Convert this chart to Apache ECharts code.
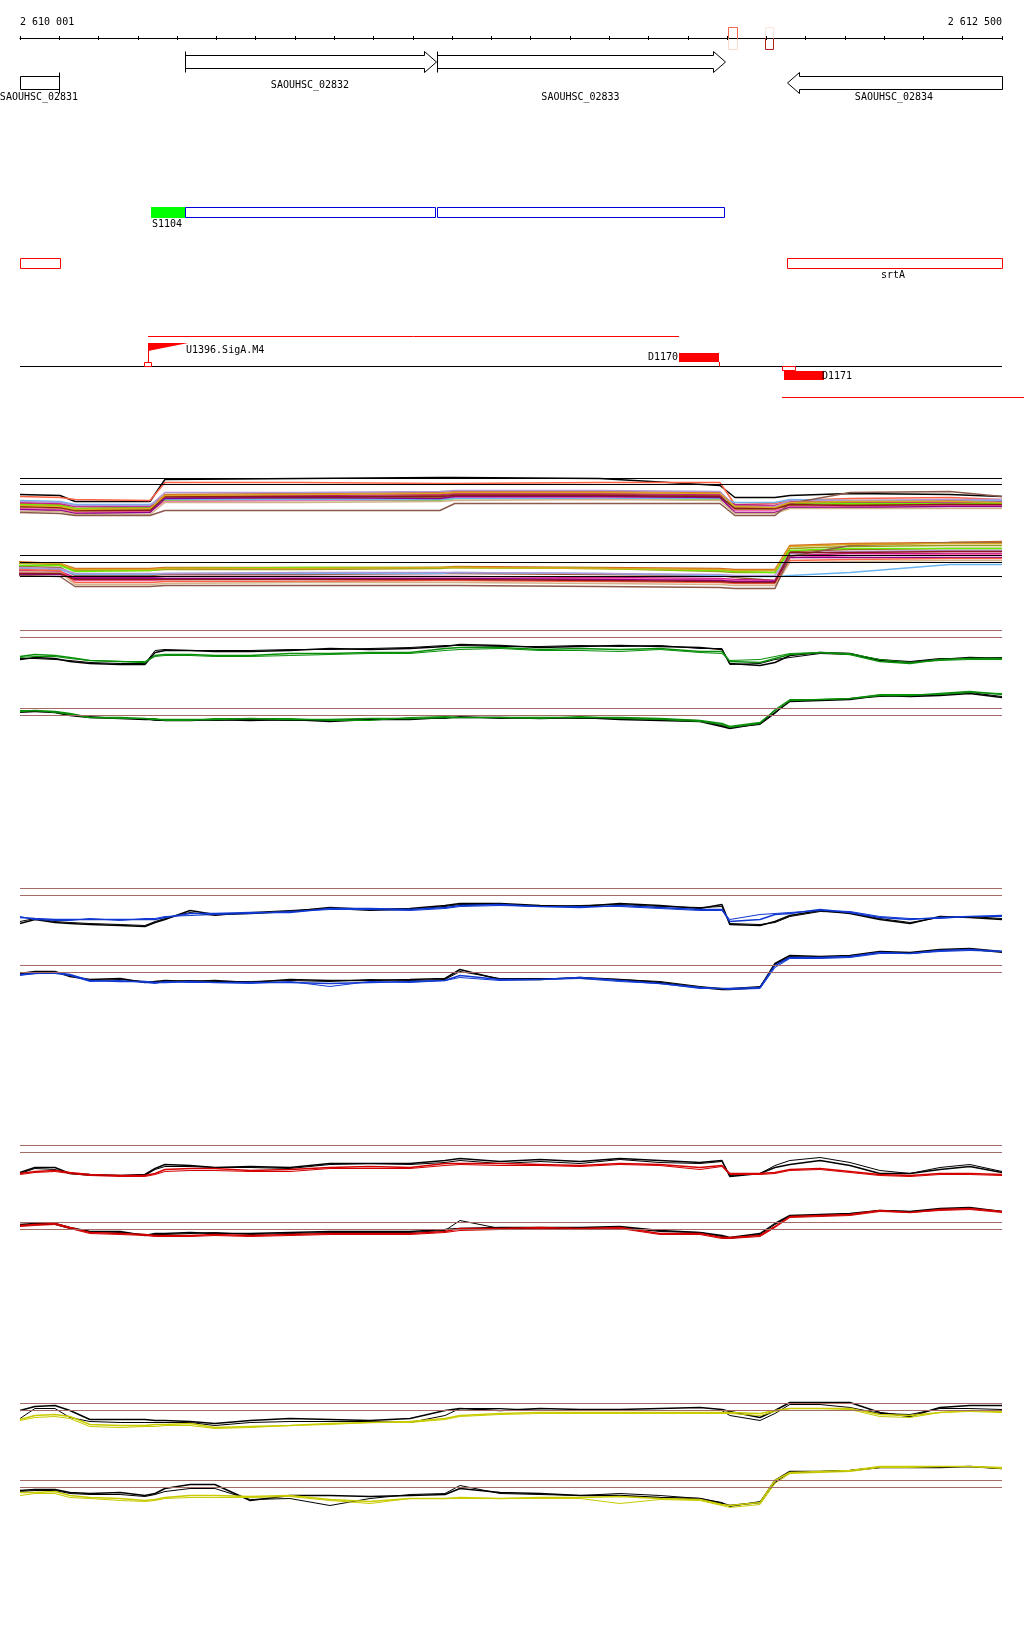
<!DOCTYPE html>
<html><head><meta charset="utf-8">
<script src="https://cdn.jsdelivr.net/npm/echarts@6/dist/echarts.min.js"></script>
<style>html,body{margin:0;padding:0;background:#fff}#c{width:1024px;height:1640px}</style>
</head><body><div id="c"></div>
<script>
// ================= DATA =================
const VIEW_START = 2610000, VIEW_END = 2612500, TICK_STEP = 100;
const AXIS_LABEL_POS = [2610000, 2612500];
const AXIS_LABEL_TEXT = ['2 610 001', '2 612 500'];

// genes
const GENE_NAMES = ['SAOUHSC_02831', 'SAOUHSC_02832', 'SAOUHSC_02833', 'SAOUHSC_02834'];
const GENE_START = [2609700, 2610420, 2611062, 2611952];
const GENE_END = [2610100, 2611059, 2611795, 2612900];
const GENE_STRAND = ['-', '+', '+', '-'];

// coverage score boxes next to the ruler (0..1, plus / minus strand)
const SCORE_START = [2611802, 2611897];
const SCORE_END = [2611825, 2611917];
const SCORE_PLUS = [0.62, 0.12];
const SCORE_MINUS = [0.18, 0.95];

// transcript S1104 segments
const SEG_NAME = 'S1104';
const SEG_START = [2610334, 2610420, 2611062];
const SEG_END = [2610420, 2611059, 2611795];
const SEG_KIND = ['UTR', 'CDS', 'CDS'];

// annotation boxes
const ANNOT_NAMES = ['', 'srtA'];
const ANNOT_START = [2610000, 2611952];
const ANNOT_END = [2610101, 2612500];

// promoters / terminators / transcription units
const TSS_NAMES = ['U1396.SigA.M4'];
const TSS_POS = [2610326];
const SITE_START = [2610316, 2611940];
const SITE_END = [2610336, 2611975];
const SITE_STRAND = ['+', '-'];
const TERM_NAMES = ['D1170', 'D1171'];
const TERM_START = [2611678, 2611944];
const TERM_END = [2611780, 2612046];
const TERM_STRAND = ['+', '-'];
const TU_START = [2610326, 2611940];
const TU_END = [2611678, 2612560];
const TU_STRAND = ['+', '-'];

// multi-condition profiles (plus strand = A, minus strand = B)
const MULTI_A_POS = [2610000, 2610102, 2610140, 2610331, 2610369, 2610713, 2611069, 2611107, 2611476, 2611782, 2611820, 2611922, 2611960, 2612113, 2612367, 2612500];
const MULTI_B_POS = [2609987, 2610102, 2610140, 2610331, 2610369, 2610713, 2611069, 2611107, 2611476, 2611782, 2611820, 2611922, 2611960, 2612113, 2612367, 2612500];
const MULTI_A_THRESH = [52, 46];
const MULTI_B_THRESH = [45, 38, 24];
const MULTI_A_VALUES = [
  [36, 35, 29, 29, 51, 52, 53, 53, 52, 45, 33, 33, 35, 37, 36, 34],
  [34, 33, 31, 30, 48, 48, 47, 47, 48, 48, 26, 27, 30, 32, 33, 31],
  [25, 24, 21, 21, 33, 33, 35, 36, 36, 35, 23, 23, 27, 28, 28, 27],
  [27, 26, 22, 23, 36, 37, 38, 39, 39, 38, 25, 24, 29, 30, 30, 29],
  [23, 22, 19, 19, 31, 32, 33, 34, 34, 33, 21, 21, 25, 26, 26, 25],
  [26, 25, 22, 23, 30, 30, 30, 32, 32, 31, 24, 25, 28, 27, 27, 27],
  [28, 27, 24, 24, 34, 35, 36, 37, 37, 36, 26, 25, 29, 29, 28, 29],
  [22, 21, 18, 19, 29, 30, 31, 33, 33, 32, 20, 20, 24, 24, 25, 25],
  [30, 29, 26, 26, 31, 31, 31, 32, 32, 32, 28, 28, 31, 30, 29, 30],
  [29, 28, 25, 25, 38, 38, 39, 40, 40, 39, 24, 24, 30, 30, 31, 31],
  [21, 20, 17, 18, 32, 33, 32, 34, 34, 33, 18, 18, 23, 23, 24, 24],
  [19, 19, 16, 16, 28, 28, 29, 30, 31, 30, 17, 17, 22, 22, 22, 22],
  [18, 17, 15, 15, 20, 20, 20, 27, 27, 27, 15, 15, 27, 38, 39, 34],
  [24, 23, 20, 20, 34, 34, 34, 35, 35, 34, 22, 22, 26, 25, 26, 26],
  [25, 24, 21, 22, 35, 36, 37, 38, 38, 37, 24, 23, 28, 29, 29, 28]
];
const MULTI_B_VALUES = [
  [39, 37, 32, 32, 33, 33, 33, 34, 33, 32, 31, 31, 55, 57, 58, 59],
  [34, 33, 25, 25, 26, 26, 27, 27, 26, 25, 23, 20, 49, 51, 52, 52],
  [37, 36, 30, 30, 31, 31, 32, 33, 32, 29, 28, 28, 52, 54, 55, 55],
  [35, 35, 29, 30, 32, 33, 33, 33, 32, 30, 29, 28, 50, 52, 52, 52],
  [30, 29, 23, 23, 24, 24, 24, 24, 23, 22, 21, 20, 45, 47, 47, 47],
  [28, 28, 20, 20, 21, 22, 22, 22, 22, 21, 20, 19, 43, 45, 46, 46],
  [26, 26, 22, 22, 22, 22, 22, 22, 21, 20, 19, 19, 43, 43, 43, 43],
  [32, 31, 26, 26, 27, 27, 27, 28, 27, 25, 24, 24, 25, 28, 36, 36],
  [33, 32, 27, 27, 27, 28, 28, 28, 27, 26, 25, 25, 47, 49, 50, 50],
  [31, 30, 18, 18, 19, 19, 20, 20, 19, 18, 17, 17, 40, 41, 42, 42],
  [29, 28, 16, 16, 17, 18, 18, 18, 17, 16, 15, 15, 38, 39, 40, 40],
  [25, 24, 14, 14, 15, 15, 15, 15, 14, 13, 12, 12, 44, 55, 58, 58],
  [27, 27, 21, 21, 21, 21, 21, 21, 20, 19, 18, 18, 48, 48, 49, 49],
  [38, 37, 31, 31, 32, 32, 33, 33, 32, 31, 30, 30, 54, 56, 57, 57]
];

// paired profiles
const PAIR_POS = [2610000, 2610038, 2610089, 2610127, 2610178, 2610255, 2610318, 2610344, 2610369, 2610433, 2610496, 2610586, 2610687, 2610789, 2610891, 2610993, 2611082, 2611120, 2611222, 2611324, 2611426, 2611527, 2611629, 2611731, 2611787, 2611807, 2611884, 2611922, 2611960, 2612037, 2612113, 2612189, 2612266, 2612342, 2612418, 2612500];
const PAIR_THRESH = [50, 43];

const GREEN_PLUS_BLACK_1 = [21, 23, 22, 19, 17, 16, 16, 28, 30, 30, 29, 29, 30, 32, 31, 32, 34, 36, 35, 33, 34, 35, 34, 33, 31, 17, 15, 18, 25, 28, 27, 20, 18, 21, 23, 22];
const GREEN_PLUS_BLACK_2 = [22, 22, 21, 20, 18, 17, 17, 30, 31, 30, 30, 30, 31, 31, 32, 33, 35, 35, 34, 34, 35, 34, 35, 32, 32, 16, 17, 21, 23, 27, 26, 21, 19, 22, 22, 23];
const GREEN_PLUS_COLOR_1 = [24, 26, 25, 23, 20, 19, 18, 25, 26, 26, 25, 25, 27, 27, 28, 28, 32, 33, 33, 31, 32, 31, 32, 29, 29, 19, 18, 22, 26, 28, 26, 19, 17, 21, 22, 22];
const GREEN_PLUS_COLOR_2 = [23, 24, 24, 22, 20, 19, 19, 24, 25, 25, 24, 24, 25, 26, 27, 27, 30, 31, 32, 30, 30, 29, 31, 28, 27, 20, 21, 24, 27, 28, 27, 21, 18, 20, 21, 21];

const GREEN_MINUS_BLACK_1 = [47, 47, 46, 43, 41, 40, 39, 39, 38, 38, 39, 38, 39, 37, 39, 39, 41, 41, 41, 40, 41, 39, 38, 37, 32, 30, 35, 46, 57, 58, 59, 63, 62, 63, 65, 61];
const GREEN_MINUS_BLACK_2 = [46, 47, 47, 44, 42, 40, 40, 38, 38, 39, 38, 39, 38, 38, 40, 40, 40, 42, 40, 41, 40, 40, 39, 38, 33, 31, 34, 45, 58, 58, 60, 62, 63, 64, 66, 62];
const GREEN_MINUS_COLOR_1 = [47, 48, 47, 45, 41, 41, 40, 39, 39, 39, 39, 40, 39, 39, 40, 40, 41, 41, 41, 41, 41, 41, 40, 38, 35, 32, 36, 48, 58, 59, 60, 63, 63, 65, 67, 64];
const GREEN_MINUS_COLOR_2 = [48, 48, 46, 44, 41, 40, 40, 40, 38, 38, 40, 40, 40, 38, 38, 41, 42, 41, 41, 40, 42, 40, 39, 37, 34, 31, 35, 49, 59, 59, 60, 64, 64, 64, 66, 65];

const BLUE_PLUS_BLACK_1 = [15, 19, 16, 15, 14, 13, 12, 16, 19, 28, 24, 25, 27, 31, 29, 30, 33, 35, 35, 33, 32, 35, 33, 30, 34, 14, 13, 17, 23, 28, 25, 19, 15, 22, 21, 19];
const BLUE_PLUS_BLACK_2 = [17, 20, 17, 16, 15, 14, 13, 17, 20, 26, 23, 26, 28, 30, 28, 29, 32, 34, 34, 32, 33, 34, 32, 31, 32, 15, 14, 16, 22, 27, 26, 20, 16, 21, 22, 20];
const BLUE_PLUS_COLOR_1 = [21, 20, 19, 19, 19, 19, 19, 19, 21, 25, 25, 26, 26, 30, 30, 29, 31, 33, 34, 32, 31, 33, 31, 29, 29, 17, 19, 24, 25, 29, 26, 21, 19, 21, 22, 23];
const BLUE_PLUS_COLOR_2 = [22, 19, 18, 18, 20, 18, 20, 20, 22, 23, 24, 25, 27, 29, 29, 28, 30, 32, 33, 32, 32, 32, 30, 28, 28, 19, 24, 25, 26, 28, 27, 22, 20, 20, 22, 22];

const BLUE_MINUS_BLACK_1 = [42, 44, 44, 39, 36, 37, 33, 34, 35, 34, 35, 33, 36, 35, 35, 36, 37, 46, 36, 36, 38, 36, 33, 28, 26, 26, 28, 52, 60, 59, 60, 64, 63, 66, 67, 64];
const BLUE_MINUS_BLACK_2 = [41, 43, 43, 40, 35, 36, 34, 33, 34, 35, 34, 34, 35, 34, 36, 35, 36, 44, 37, 37, 37, 36, 34, 29, 27, 27, 29, 51, 59, 58, 59, 63, 62, 65, 66, 63];
const BLUE_MINUS_COLOR_1 = [41, 42, 43, 41, 35, 34, 34, 33, 33, 34, 33, 33, 33, 32, 33, 34, 35, 40, 36, 36, 38, 35, 32, 28, 27, 27, 28, 50, 58, 58, 59, 63, 62, 65, 66, 64];
const BLUE_MINUS_COLOR_2 = [40, 42, 42, 40, 34, 35, 33, 32, 34, 33, 33, 32, 34, 29, 34, 33, 35, 38, 35, 36, 37, 34, 32, 27, 27, 26, 27, 48, 57, 57, 58, 62, 62, 64, 65, 64];

const RED_PLUS_BLACK_1 = [23, 28, 28, 22, 21, 20, 21, 27, 31, 30, 28, 29, 28, 32, 32, 32, 35, 37, 34, 36, 34, 37, 35, 33, 35, 19, 22, 28, 31, 35, 30, 22, 22, 26, 29, 23];
const RED_PLUS_BLACK_2 = [22, 27, 26, 22, 20, 20, 20, 26, 29, 29, 28, 28, 27, 31, 32, 31, 33, 35, 32, 34, 32, 36, 33, 32, 34, 20, 22, 30, 35, 38, 33, 25, 22, 28, 31, 24];
const RED_PLUS_COLOR_1 = [22, 24, 25, 23, 21, 20, 20, 22, 26, 27, 27, 25, 26, 28, 29, 28, 32, 32, 32, 31, 30, 32, 31, 28, 30, 22, 22, 23, 26, 27, 24, 21, 20, 22, 22, 21];
const RED_PLUS_COLOR_2 = [21, 23, 24, 22, 20, 19, 19, 21, 24, 25, 25, 24, 24, 27, 27, 27, 30, 31, 30, 30, 29, 31, 30, 26, 29, 21, 21, 22, 25, 26, 23, 20, 19, 21, 21, 20];

const RED_MINUS_BLACK_1 = [48, 49, 49, 45, 41, 41, 37, 39, 39, 40, 39, 39, 40, 41, 41, 41, 43, 44, 45, 45, 45, 46, 42, 40, 37, 35, 39, 49, 57, 58, 59, 62, 61, 64, 65, 61];
const RED_MINUS_BLACK_2 = [47, 48, 48, 44, 41, 40, 38, 38, 38, 39, 40, 38, 39, 40, 40, 40, 42, 52, 44, 44, 44, 45, 41, 40, 36, 34, 38, 48, 56, 57, 58, 62, 61, 63, 64, 61];
const RED_MINUS_COLOR_1 = [47, 48, 49, 45, 40, 39, 38, 37, 37, 37, 38, 37, 38, 39, 39, 39, 41, 44, 44, 45, 44, 45, 39, 39, 35, 35, 37, 46, 56, 57, 58, 62, 60, 63, 64, 61];
const RED_MINUS_COLOR_2 = [46, 47, 48, 44, 39, 38, 37, 36, 36, 36, 37, 36, 37, 38, 38, 38, 40, 42, 43, 44, 43, 44, 38, 38, 34, 34, 36, 45, 55, 56, 57, 61, 60, 62, 63, 60];

const YELLOW_PLUS_BLACK_1 = [43, 47, 48, 43, 34, 34, 34, 33, 33, 32, 30, 33, 35, 34, 33, 35, 43, 45, 43, 45, 44, 44, 45, 46, 44, 42, 36, 43, 51, 51, 51, 41, 37, 46, 48, 48];
const YELLOW_PLUS_BLACK_2 = [35, 45, 45, 36, 32, 31, 31, 31, 31, 31, 28, 31, 32, 32, 32, 31, 38, 45, 45, 43, 43, 43, 43, 43, 43, 38, 33, 40, 49, 49, 46, 40, 39, 45, 45, 44];
const YELLOW_PLUS_COLOR_1 = [34, 38, 39, 37, 29, 28, 28, 29, 29, 30, 26, 27, 28, 30, 31, 32, 35, 38, 40, 41, 41, 41, 41, 41, 41, 41, 40, 43, 45, 45, 45, 39, 38, 41, 43, 42];
const YELLOW_PLUS_COLOR_2 = [33, 36, 37, 35, 27, 26, 27, 27, 28, 28, 25, 26, 28, 29, 31, 31, 34, 37, 39, 40, 40, 40, 40, 40, 40, 40, 38, 42, 45, 45, 44, 37, 36, 41, 42, 41];

const YELLOW_MINUS_BLACK_1 = [40, 41, 41, 38, 37, 38, 35, 37, 42, 46, 46, 30, 35, 35, 34, 35, 36, 42, 38, 37, 35, 35, 33, 32, 27, 25, 28, 50, 59, 59, 60, 63, 63, 63, 64, 62];
const YELLOW_MINUS_BLACK_2 = [39, 40, 40, 37, 36, 36, 34, 36, 39, 42, 42, 31, 32, 25, 32, 36, 37, 45, 37, 36, 35, 37, 35, 32, 28, 24, 29, 48, 58, 59, 60, 63, 63, 64, 64, 62];
const YELLOW_MINUS_COLOR_1 = [38, 38, 39, 35, 33, 32, 30, 31, 33, 35, 35, 34, 35, 31, 29, 32, 32, 33, 32, 33, 33, 34, 32, 31, 26, 25, 28, 50, 58, 59, 60, 64, 64, 64, 64, 63];
const YELLOW_MINUS_COLOR_2 = [35, 37, 37, 33, 32, 30, 29, 30, 32, 33, 33, 33, 34, 30, 27, 32, 32, 32, 32, 32, 32, 27, 31, 30, 25, 23, 26, 47, 57, 58, 59, 63, 63, 64, 64, 62];

// ================= LAYOUT / STYLE =================
const FONT = '"DejaVu Sans Mono", monospace';
const LAY = {
  geneFwd: 62, geneRev: 83, bodyHalf: 6.5, headHalf: 10.5, headLen: 12,
  geneLabelRows: [85.5, 97], geneRevLabel: 97,
  segTop: 207.5, segBot: 217.5, segFillTop: 207, segFillBot: 218, segLabel: 224,
  annTop: 258.5, annBot: 268.5, annLabel: 275,
  tuFwd: 336.5, tuRev: 397.5, base: 366.5,
  flagTop: 343, flagLen: 40, flagDrop: 8,
  siteFwd: [362.5, 366.5], siteRev: [366.5, 370.5],
  termFwd: [353, 362], termRev: [371, 380], termFwdLabel: 357.5, termRevLabel: 376,
  scoreTop: 27.5, scoreMid: 38.5, scoreBot: 49.5
};
const MULTI_A_COLORS = ['#000000','#ff6347','#a0522d','#d2691e','#9a9a1a','#66ee00','#c71585','#ff69b4','#6ab4f0','#b098d8','#8b008b','#d2b48c','#8b5a4a','#8b1a1a','#daa520'];
const MULTI_B_COLORS = ['#d2691e','#a0522d','#9a9a1a','#66ee00','#c71585','#ff69b4','#8b008b','#6ab4f0','#b098d8','#ff6347','#d2b48c','#8b5a4a','#8b1a1a','#daa520'];
const THRESH_COLOR = '#a46b66';
const RAMP = [[0,[255,255,255]],[0.2,[251,213,198]],[0.6,[244,104,76]],[1,[173,20,20]]];
function rampColor(t){
  for (let k = 1; k < RAMP.length; k++) {
    if (t <= RAMP[k][0]) {
      const a = RAMP[k-1], b = RAMP[k], f = (t - a[0]) / (b[0] - a[0]);
      const c = a[1].map((v, j) => Math.round(v + (b[1][j] - v) * f));
      return 'rgb(' + c.join(',') + ')';
    }
  }
  return 'rgb(173,20,20)';
}

// ================= CHART =================
const chart = echarts.init(document.getElementById('c'), null, {renderer: 'canvas', width: 1024, height: 1640});
const grids = [], xAxes = [], yAxes = [], series = [];

function snap(v){ return Math.round(v) + 0.5; }
function px(api, bp){ return api.coord([bp, 100])[0]; }
function py(api, y){ return api.coord([VIEW_START, y])[1]; }

// top annotation grid (y axis expressed in page pixels for lanes)
grids.push({left: 20, right: 22, top: 38, height: 370, outerBoundsMode: 'none', containLabel: false});
xAxes.push({gridIndex: 0, type: 'value', position: 'top', min: VIEW_START, max: VIEW_END, interval: TICK_STEP,
  axisLine: {show: true, lineStyle: {color: '#000', width: 1}},
  axisTick: {show: true, length: 2, lineStyle: {color: '#000', width: 1}},
  splitLine: {show: false},
  axisLabel: {show: true, interval: 0, showMinLabel: true, showMaxLabel: true, alignMinLabel: 'left', alignMaxLabel: 'right',
    margin: 11, fontFamily: FONT, fontSize: 10, color: '#000',
    formatter: v => { const k = AXIS_LABEL_POS.indexOf(v); return k >= 0 ? AXIS_LABEL_TEXT[k] : ''; }}
});
yAxes.push({gridIndex: 0, type: 'value', min: 38, max: 408, inverse: true, show: false});
// thin grid whose bottom edge sits on the ruler: gives the downward half of the ticks
grids.push({left: 20, right: 22, top: 36, height: 2, outerBoundsMode: 'none', containLabel: false});
xAxes.push({gridIndex: 1, type: 'value', position: 'bottom', min: VIEW_START, max: VIEW_END, interval: TICK_STEP,
  axisLine: {show: false}, axisLabel: {show: false}, splitLine: {show: false},
  axisTick: {show: true, inside: false, length: 2, lineStyle: {color: '#000', width: 1}}});
yAxes.push({gridIndex: 1, type: 'value', min: 0, max: 1, show: false});

function addGrid(top, height, ymax){
  const gi = grids.length;
  grids.push({left: 20, right: 22, top: top, height: height, outerBoundsMode: 'none', containLabel: false});
  xAxes.push({gridIndex: gi, type: 'value', min: VIEW_START, max: VIEW_END, show: false});
  yAxes.push({gridIndex: gi, type: 'value', min: 0, max: ymax, show: false});
  return gi;
}

function custom(data, renderItem){
  series.push({type: 'custom', coordinateSystem: 'cartesian2d', xAxisIndex: 0, yAxisIndex: 0, clip: false, silent: true,
    data: data, encode: {x: [0, 1]}, renderItem: renderItem});
}

// score boxes at ruler
custom(SCORE_START.map((s, i) => [s, SCORE_END[i]]), (params, api) => {
  const i = params.dataIndex;
  const x1 = snap(px(api, SCORE_START[i])), x2 = snap(px(api, SCORE_END[i]));
  const t = py(api, LAY.scoreTop), m = py(api, LAY.scoreMid), b = py(api, LAY.scoreBot);
  return {type: 'group', children: [
    {type: 'polyline', shape: {points: [[x1, m], [x1, t], [x2, t], [x2, m]]}, style: {stroke: rampColor(SCORE_PLUS[i]), fill: null, lineWidth: 1}},
    {type: 'polyline', shape: {points: [[x1, m], [x1, b], [x2, b], [x2, m]]}, style: {stroke: rampColor(SCORE_MINUS[i]), fill: null, lineWidth: 1}}
  ]};
});

// genes
custom(GENE_START.map((s, i) => [s, GENE_END[i]]), (params, api) => {
  const i = params.dataIndex;
  const s = GENE_START[i], e = GENE_END[i], fwd = GENE_STRAND[i] === '+';
  const xs = snap(px(api, Math.max(s, VIEW_START))), xe = snap(px(api, Math.min(e, VIEW_END)));
  const cy = fwd ? LAY.geneFwd : LAY.geneRev;
  const bt = py(api, cy - LAY.bodyHalf), bb = py(api, cy + LAY.bodyHalf);
  const ht = py(api, cy - LAY.headHalf), hb = py(api, cy + LAY.headHalf), c = py(api, cy);
  const headIn = fwd ? e <= VIEW_END : s >= VIEW_START;
  const barIn = fwd ? s >= VIEW_START : e <= VIEW_END;
  let pts;
  if (!headIn) pts = [[xs, bt], [xe, bt], [xe, bb], [xs, bb]];
  else if (fwd) { const hx = xe - LAY.headLen; pts = [[xs, bt], [hx, bt], [hx, ht], [xe, c], [hx, hb], [hx, bb], [xs, bb]]; }
  else { const hx = xs + LAY.headLen; pts = [[xe, bt], [hx, bt], [hx, ht], [xs, c], [hx, hb], [hx, bb], [xe, bb]]; }
  const children = [{type: 'polygon', shape: {points: pts}, style: {fill: '#fff', stroke: '#000', lineWidth: 1}}];
  if (barIn) { const bx = fwd ? xs : xe; children.push({type: 'line', shape: {x1: bx, y1: ht, x2: bx, y2: hb}, style: {stroke: '#000', lineWidth: 1}}); }
  let fwdIdx = 0; for (let k = 0; k < i; k++) if (GENE_STRAND[k] === '+') fwdIdx++;
  const ly = fwd ? LAY.geneLabelRows[fwdIdx % 2] : LAY.geneRevLabel;
  children.push({type: 'text', style: {text: GENE_NAMES[i], x: (xs + xe) / 2 - 1, y: py(api, ly), fill: '#000',
    fontFamily: FONT, fontSize: 10, align: 'center', verticalAlign: 'middle'}});
  return {type: 'group', children: children};
});

// transcript segments
custom(SEG_START.map((s, i) => [s, SEG_END[i]]), (params, api) => {
  const i = params.dataIndex;
  const a = px(api, SEG_START[i]), b = px(api, SEG_END[i]);
  const children = [];
  if (SEG_KIND[i] === 'UTR') {
    const t = py(api, LAY.segFillTop), bo = py(api, LAY.segFillBot);
    children.push({type: 'rect', shape: {x: Math.round(a), y: t, width: Math.round(b) - Math.round(a), height: bo - t}, style: {fill: '#00ff00'}});
  } else {
    const t = py(api, LAY.segTop), bo = py(api, LAY.segBot);
    const x1 = snap(a), x2 = snap(b) - 1;
    children.push({type: 'rect', shape: {x: x1, y: t, width: x2 - x1, height: bo - t}, style: {fill: null, stroke: '#0000dd', lineWidth: 1}});
  }
  if (i === 0) children.push({type: 'text', style: {text: SEG_NAME, x: Math.round(a) + 1, y: py(api, LAY.segLabel), fill: '#000',
    fontFamily: FONT, fontSize: 10, align: 'left', verticalAlign: 'middle'}});
  return {type: 'group', children: children};
});

// annotation boxes
custom(ANNOT_START.map((s, i) => [s, ANNOT_END[i]]), (params, api) => {
  const i = params.dataIndex;
  const x1 = snap(px(api, ANNOT_START[i])), x2 = snap(px(api, ANNOT_END[i]));
  const t = py(api, LAY.annTop), b = py(api, LAY.annBot);
  const children = [{type: 'rect', shape: {x: x1, y: t, width: x2 - x1, height: b - t}, style: {fill: null, stroke: '#ff0000', lineWidth: 1}}];
  if (ANNOT_NAMES[i]) children.push({type: 'text', style: {text: ANNOT_NAMES[i], x: (x1 + x2) / 2 - 2, y: py(api, LAY.annLabel), fill: '#000',
    fontFamily: FONT, fontSize: 10, align: 'center', verticalAlign: 'middle'}});
  return {type: 'group', children: children};
});

// baseline
custom([[VIEW_START, VIEW_END]], (params, api) => {
  const y = py(api, LAY.base);
  return {type: 'line', shape: {x1: px(api, VIEW_START), y1: y, x2: px(api, VIEW_END), y2: y}, style: {stroke: '#000', lineWidth: 1}};
});

// transcription units
custom(TU_START.map((s, i) => [s, TU_END[i]]), (params, api) => {
  const i = params.dataIndex;
  const y = py(api, TU_STRAND[i] === '+' ? LAY.tuFwd : LAY.tuRev);
  return {type: 'line', shape: {x1: Math.round(px(api, TU_START[i])), y1: y, x2: Math.round(px(api, TU_END[i])), y2: y}, style: {stroke: '#ff0000', lineWidth: 1}};
});

// promoter flags
custom(TSS_POS.map(p => [p, p]), (params, api) => {
  const i = params.dataIndex;
  const x = Math.round(px(api, TSS_POS[i]));
  const t = py(api, LAY.flagTop), d = py(api, LAY.flagTop + LAY.flagDrop), bot = py(api, LAY.siteFwd[0]);
  return {type: 'group', children: [
    {type: 'polygon', shape: {points: [[x, t], [x + LAY.flagLen, t], [x, d]]}, style: {fill: '#ff0000'}},
    {type: 'line', shape: {x1: x + 0.5, y1: t, x2: x + 0.5, y2: bot}, style: {stroke: '#ff0000', lineWidth: 1}},
    {type: 'text', style: {text: TSS_NAMES[i], x: x + LAY.flagLen - 2, y: py(api, 350), fill: '#000',
      fontFamily: FONT, fontSize: 10, align: 'left', verticalAlign: 'middle'}}
  ]};
});

// small site markers
custom(SITE_START.map((s, i) => [s, SITE_END[i]]), (params, api) => {
  const i = params.dataIndex;
  const x1 = snap(px(api, SITE_START[i])), x2 = snap(px(api, SITE_END[i])) - 1;
  const r = SITE_STRAND[i] === '+' ? LAY.siteFwd : LAY.siteRev;
  const t = py(api, r[0]), b = py(api, r[1]);
  return {type: 'rect', shape: {x: x1, y: t, width: x2 - x1, height: b - t}, style: {fill: null, stroke: '#ff0000', lineWidth: 1}};
});

// terminators
custom(TERM_START.map((s, i) => [s, TERM_END[i]]), (params, api) => {
  const i = params.dataIndex;
  const fwd = TERM_STRAND[i] === '+';
  const a = Math.round(px(api, TERM_START[i])), b = Math.round(px(api, TERM_END[i]));
  const r = fwd ? LAY.termFwd : LAY.termRev;
  const t = py(api, r[0]), bo = py(api, r[1]);
  const children = [{type: 'rect', shape: {x: a, y: t, width: b - a, height: bo - t}, style: {fill: '#ff0000'}}];
  if (fwd) {
    children.push({type: 'line', shape: {x1: b + 0.5, y1: bo, x2: b + 0.5, y2: py(api, LAY.base)}, style: {stroke: '#ff0000', lineWidth: 1}});
    children.push({type: 'text', style: {text: TERM_NAMES[i], x: a - 1, y: py(api, LAY.termFwdLabel), fill: '#000',
      fontFamily: FONT, fontSize: 10, align: 'right', verticalAlign: 'middle'}});
  } else {
    children.push({type: 'text', style: {text: TERM_NAMES[i], x: b - 2, y: py(api, LAY.termRevLabel), fill: '#000',
      fontFamily: FONT, fontSize: 10, align: 'left', verticalAlign: 'middle'}});
  }
  return {type: 'group', children: children};
});

// ---------- profile tracks ----------
function thresholdMark(values, color){
  return {silent: true, symbol: ['none', 'none'], label: {show: false}, animation: false,
    lineStyle: {color: color, width: 1, type: 'solid', opacity: 1}, emphasis: {disabled: true},
    data: values.map(v => ({yAxis: v}))};
}
function lineSeries(gi, pos, vals, color, width, mark){
  const s = {type: 'line', xAxisIndex: gi, yAxisIndex: gi, data: pos.map((p, k) => [p, vals[k]]),
    showSymbol: false, symbol: 'none', clip: false, silent: true,
    lineStyle: {color: color, width: width}, emphasis: {disabled: true}};
  if (mark) s.markLine = mark;
  series.push(s);
}

const gA = addGrid(460.5, 70, 70);
MULTI_A_VALUES.forEach((vals, k) => lineSeries(gA, MULTI_A_POS, vals, MULTI_A_COLORS[k], 1.5, k === 0 ? thresholdMark(MULTI_A_THRESH, '#000') : null));
const gB = addGrid(530.5, 70, 70);
MULTI_B_VALUES.forEach((vals, k) => lineSeries(gB, MULTI_B_POS, vals, MULTI_B_COLORS[k], 1.5, k === 0 ? thresholdMark(MULTI_B_THRESH, '#000') : null));

const PANELS = [
  [600.5, '#0a8f0a', GREEN_PLUS_BLACK_1, GREEN_PLUS_BLACK_2, GREEN_PLUS_COLOR_1, GREEN_PLUS_COLOR_2],
  [678.5, '#0a8f0a', GREEN_MINUS_BLACK_1, GREEN_MINUS_BLACK_2, GREEN_MINUS_COLOR_1, GREEN_MINUS_COLOR_2],
  [858.5, '#1038d2', BLUE_PLUS_BLACK_1, BLUE_PLUS_BLACK_2, BLUE_PLUS_COLOR_1, BLUE_PLUS_COLOR_2],
  [935.5, '#1038d2', BLUE_MINUS_BLACK_1, BLUE_MINUS_BLACK_2, BLUE_MINUS_COLOR_1, BLUE_MINUS_COLOR_2],
  [1115.5, '#d40000', RED_PLUS_BLACK_1, RED_PLUS_BLACK_2, RED_PLUS_COLOR_1, RED_PLUS_COLOR_2],
  [1192.5, '#d40000', RED_MINUS_BLACK_1, RED_MINUS_BLACK_2, RED_MINUS_COLOR_1, RED_MINUS_COLOR_2],
  [1373.5, '#c8cc00', YELLOW_PLUS_BLACK_1, YELLOW_PLUS_BLACK_2, YELLOW_PLUS_COLOR_1, YELLOW_PLUS_COLOR_2],
  [1450.5, '#c8cc00', YELLOW_MINUS_BLACK_1, YELLOW_MINUS_BLACK_2, YELLOW_MINUS_COLOR_1, YELLOW_MINUS_COLOR_2]
];
PANELS.forEach(p => {
  const gi = addGrid(p[0], 80, 80);
  lineSeries(gi, PAIR_POS, p[3], '#000', 1, thresholdMark(PAIR_THRESH, THRESH_COLOR));
  lineSeries(gi, PAIR_POS, p[2], '#000', 1.5, null);
  lineSeries(gi, PAIR_POS, p[5], p[1], 1, null);
  lineSeries(gi, PAIR_POS, p[4], p[1], 1.5, null);
});

chart.setOption({
  animation: false,
  backgroundColor: '#ffffff',
  grid: grids, xAxis: xAxes, yAxis: yAxes, series: series,
  tooltip: {show: false}
});
</script>
</body></html>
